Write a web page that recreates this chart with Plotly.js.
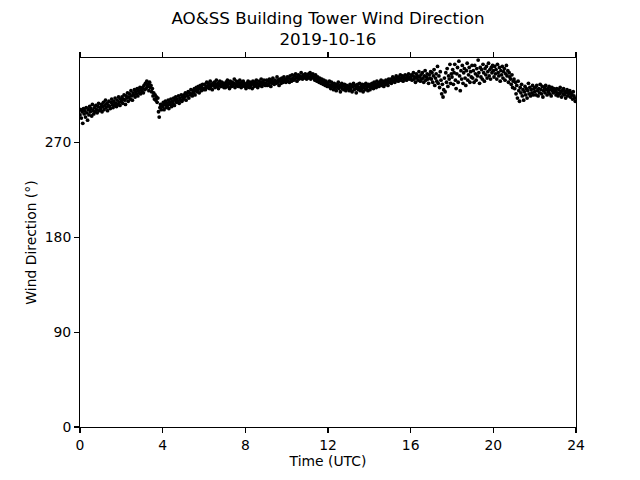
<!DOCTYPE html>
<html>
<head>
<meta charset="utf-8">
<script src="https://cdn.plot.ly/plotly-3.0.1.min.js"></script>
<style>html,body{margin:0;padding:0;background:#fff;}#chart{width:640px;height:480px;}</style>
</head>
<body>
<div id="chart"></div>
<script>
// Wind direction (degrees), 2-minute samples, 30 per hour
const hour00 = [296,301,293,299,288,302,297,300,294,303,298,291,301,296,304,299,302,295,306,300,297,303,299,305,301,298,304,307,300,303];
const hour01 = [302,306,299,304,308,301,305,310,303,307,300,305,309,304,302,308,311,306,303,309,305,312,307,304,310,306,313,308,305,311];
const hour02 = [309,313,307,311,315,310,306,314,312,317,309,313,316,311,319,314,310,317,315,320,313,318,316,321,314,319,317,322,316,320];
const hour03 = [318,322,317,324,320,326,321,328,323,325,319,327,322,324,318,321,314,317,311,315,310,313,308,312,299,294,303,306,301,305];
const hour04 = [304,308,301,306,309,303,307,305,310,302,308,306,311,304,309,307,312,305,310,313,308,311,309,314,307,312,310,315,309,313];
const hour05 = [311,315,313,317,310,316,314,318,312,317,315,320,316,314,319,317,321,315,319,322,318,320,323,317,321,324,319,322,325,320];
const hour06 = [321,325,320,323,327,322,326,324,321,328,323,325,320,326,324,327,322,325,329,323,326,321,324,328,325,323,327,324,326,322];
const hour07 = [325,322,327,324,329,323,326,321,328,325,323,327,324,326,330,322,325,328,324,327,323,326,329,325,322,327,324,328,326,323];
const hour08 = [324,321,326,323,328,325,322,327,324,326,321,328,325,323,327,324,329,326,322,325,328,324,326,330,323,327,325,329,326,324];
const hour09 = [326,329,324,328,325,330,327,323,329,326,331,327,325,329,328,326,332,327,329,324,330,328,326,331,329,327,332,328,330,327];
const hour10 = [329,332,328,331,327,333,330,328,334,331,329,333,330,335,332,328,331,334,330,333,331,336,332,330,334,331,333,335,332,330];
const hour11 = [333,331,335,332,336,330,334,332,335,331,333,329,334,331,328,332,330,327,331,329,326,330,328,325,329,327,324,328,326,323];
const hour12 = [326,323,328,324,321,327,323,325,320,326,322,324,319,325,322,327,321,324,318,323,326,321,324,320,325,322,319,324,321,323];
const hour13 = [322,319,325,321,324,318,323,326,320,324,321,317,323,325,320,322,326,319,323,321,325,318,322,324,320,326,321,323,319,325];
const hour14 = [323,320,325,322,326,324,321,327,323,325,322,328,324,326,323,327,325,329,324,326,328,323,327,325,329,326,328,324,330,327];
const hour15 = [327,330,326,329,332,328,331,327,330,333,329,331,328,332,330,334,329,331,333,328,332,330,334,331,329,333,331,335,330,332];
const hour16 = [331,334,329,333,336,330,332,327,335,331,333,329,337,332,328,334,330,336,331,327,333,338,329,332,335,330,326,334,331,337];
const hour17 = [330,336,327,333,339,324,331,335,328,342,326,333,322,337,329,316,325,313,320,331,318,336,327,340,323,333,330,344,326,335];
const hour18 = [332,339,325,336,344,329,321,335,341,327,347,333,319,338,330,343,326,336,340,331,324,338,345,329,334,341,327,337,332,343];
const hour19 = [331,338,327,343,335,329,340,333,348,336,326,341,332,339,330,344,336,328,340,334,342,331,337,345,333,339,330,341,336,343];
const hour20 = [338,332,342,335,339,330,344,336,333,341,328,338,334,342,331,337,340,329,335,343,333,338,327,336,332,330,325,334,322,328];
const hour21 = [330,321,327,316,324,312,328,319,309,322,317,325,314,320,310,318,323,315,321,312,319,326,316,322,314,320,317,324,315,321];
const hour22 = [318,322,315,324,319,314,321,317,325,320,316,323,313,319,322,317,324,320,315,321,318,323,316,320,314,322,319,317,321,318];
const hour23 = [319,315,321,317,314,320,316,322,318,313,319,316,321,315,318,312,317,320,314,318,316,319,313,317,315,311,318,314,312,309];

const samplesPerHour = 30;
const xTicks = [0,4,8,12,16,20,24];
const yTicks = [0,90,180,270];

const direction = [].concat(hour00,hour01,hour02,hour03,hour04,hour05,hour06,hour07,
  hour08,hour09,hour10,hour11,hour12,hour13,hour14,hour15,hour16,hour17,hour18,
  hour19,hour20,hour21,hour22,hour23);
const timeUTC = direction.map((_, i) => i / samplesPerHour);

const font = {family: 'DejaVu Sans, sans-serif', color: '#000', size: 13.9};

Plotly.newPlot('chart', [{
  type: 'scatter', mode: 'markers',
  x: timeUTC, y: direction,
  marker: {color: '#000', size: 3.8, line: {width: 0}},
  hoverinfo: 'skip'
}], {
  width: 640, height: 480,
  paper_bgcolor: '#fff', plot_bgcolor: '#fff',
  margin: {l: 80, r: 64, t: 58, b: 53},
  showlegend: false,
  font: font,
  title: {
    text: 'AO&SS Building Tower Wind Direction<br>2019-10-16',
    font: {family: 'DejaVu Sans, sans-serif', size: 16.7, color: '#000'},
    x: 0.5, xref: 'paper', xanchor: 'center',
    y: 0.951, yref: 'container', yanchor: 'top'
  },
  xaxis: {
    range: [0, 24], tickvals: xTicks, ticktext: xTicks.map(String),
    ticks: 'outside', ticklen: 4.9, tickwidth: 1.1, tickcolor: '#000',
    showline: true, linecolor: '#000', linewidth: 1.1, mirror: 'ticks',
    showgrid: false, zeroline: false, tickfont: font,
    title: {text: 'Time (UTC)', font: font, standoff: 4}
  },
  yaxis: {
    range: [0, 350], tickvals: yTicks, ticktext: yTicks.map(String),
    ticks: 'outside', ticklen: 4.9, tickwidth: 1.1, tickcolor: '#000',
    showline: true, linecolor: '#000', linewidth: 1.1, mirror: true,
    showgrid: false, zeroline: false, tickfont: font,
    title: {text: 'Wind Direction (°)', font: font, standoff: 4}
  }
}, {staticPlot: true});
</script>
</body>
</html>
